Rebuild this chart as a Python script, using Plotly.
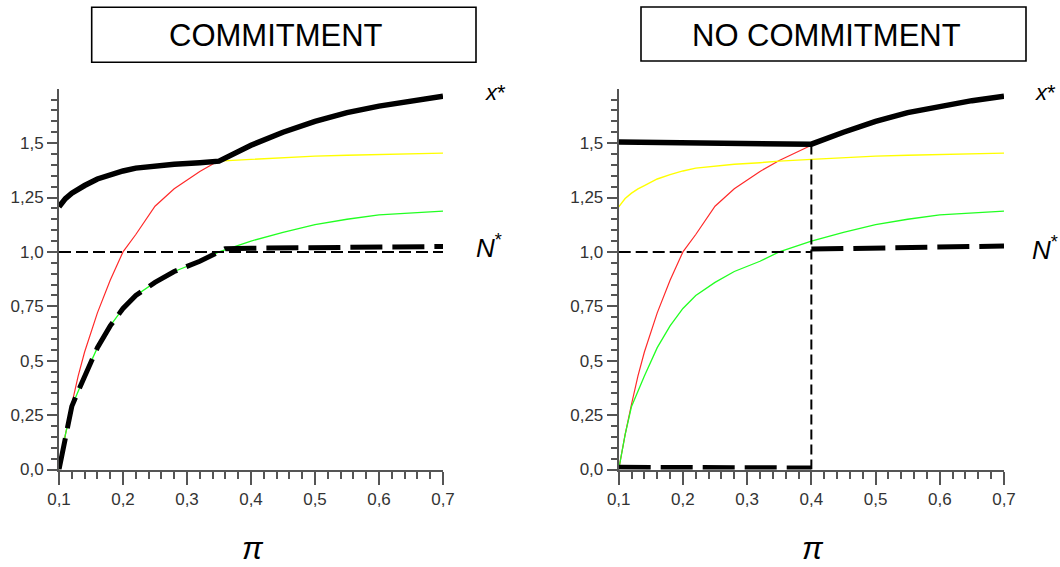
import plotly.graph_objects as go

W, H = 1060, 567

# ---------------- data ----------------
pi_grid = [0.10, 0.11, 0.12, 0.13, 0.14, 0.16, 0.18, 0.20, 0.22, 0.25,
           0.28, 0.32, 0.35, 0.40, 0.45, 0.50, 0.55, 0.60, 0.65, 0.70]

red_curve = [0.00, 0.16, 0.30, 0.43, 0.54, 0.72, 0.87, 1.00, 1.08, 1.21,
             1.29, 1.37, 1.42, 1.49, 1.55, 1.60, 1.64, 1.67, 1.695, 1.715]

yellow_curve = [1.207, 1.245, 1.27, 1.29, 1.305, 1.335, 1.355, 1.372, 1.385, 1.395,
                1.403, 1.410, 1.417, 1.425, 1.433, 1.440, 1.444, 1.448, 1.451, 1.454]

green_curve = [0.00, 0.16, 0.29, 0.36, 0.43, 0.56, 0.66, 0.74, 0.80, 0.86,
               0.91, 0.957, 1.00, 1.05, 1.09, 1.125, 1.15, 1.17, 1.18, 1.187]

# COMMITMENT panel equilibrium paths
xstar_c_pi = [0.10, 0.11, 0.12, 0.13, 0.14, 0.16, 0.18, 0.20, 0.22, 0.25,
              0.28, 0.32, 0.35, 0.40, 0.45, 0.50, 0.55, 0.60, 0.65, 0.70]
xstar_c = [1.207, 1.245, 1.27, 1.29, 1.305, 1.335, 1.355, 1.372, 1.385, 1.395,
           1.403, 1.410, 1.417, 1.49, 1.55, 1.60, 1.64, 1.67, 1.695, 1.715]

nstar_c_pi = [0.10, 0.11, 0.12, 0.13, 0.14, 0.16, 0.18, 0.20, 0.22, 0.25,
              0.28, 0.32, 0.35, 0.36, 0.40, 0.50, 0.60, 0.70]
nstar_c = [0.00, 0.16, 0.29, 0.36, 0.43, 0.56, 0.66, 0.74, 0.80, 0.86,
           0.91, 0.957, 1.00, 1.015, 1.017, 1.019, 1.022, 1.025]

# NO COMMITMENT panel equilibrium paths
xstar_nc_pi = [0.10, 0.40, 0.45, 0.50, 0.55, 0.60, 0.65, 0.70]
xstar_nc = [1.505, 1.495, 1.55, 1.60, 1.64, 1.67, 1.695, 1.715]

nstar_nc_low_pi = [0.10, 0.40]
nstar_nc_low = [0.01, 0.007]
nstar_nc_high_pi = [0.40, 0.50, 0.60, 0.70]
nstar_nc_high = [1.013, 1.017, 1.022, 1.027]

ref_level_pi_c = [0.10, 0.70]
ref_level_pi_nc = [0.10, 0.40]
ref_level = [1.0, 1.0]

switch_pi = [0.40, 0.40]
switch_y = [0.0, 1.495]

xticks = [0.1, 0.2, 0.3, 0.4, 0.5, 0.6, 0.7]
xtick_text = ["0,1", "0,2", "0,3", "0,4", "0,5", "0,6", "0,7"]
yticks = [0.0, 0.25, 0.5, 0.75, 1.0, 1.25, 1.5]
ytick_text = ["0,0", "0,25", "0,5", "0,75", "1,0", "1,25", "1,5"]

panel_titles = ["COMMITMENT", "NO COMMITMENT"]

# ---------------- figure ----------------
def px(x):
    return x / W

def py(y):
    return 1 - y / H

fig = go.Figure()

def add_panel(xa, ya, xs_pi, xs, ns_segments, ref_pi, vertical):
    fig.add_trace(go.Scatter(x=pi_grid, y=red_curve, mode="lines",
                             line=dict(color="#ff2a2a", width=1.2), xaxis=xa, yaxis=ya))
    fig.add_trace(go.Scatter(x=pi_grid, y=yellow_curve, mode="lines",
                             line=dict(color="#ffff00", width=1.4), xaxis=xa, yaxis=ya))
    fig.add_trace(go.Scatter(x=pi_grid, y=green_curve, mode="lines",
                             line=dict(color="#22ff22", width=1.3), xaxis=xa, yaxis=ya))
    fig.add_trace(go.Scatter(x=ref_pi, y=ref_level, mode="lines",
                             line=dict(color="black", width=2, dash="12px,5px"),
                             xaxis=xa, yaxis=ya))
    if vertical:
        fig.add_trace(go.Scatter(x=switch_pi, y=switch_y, mode="lines",
                                 line=dict(color="black", width=2, dash="10px,5px"),
                                 xaxis=xa, yaxis=ya))
    fig.add_trace(go.Scatter(x=xs_pi, y=xs, mode="lines",
                             line=dict(color="black", width=5.5), xaxis=xa, yaxis=ya))
    for sx, sy in ns_segments:
        fig.add_trace(go.Scatter(x=sx, y=sy, mode="lines",
                                 line=dict(color="black", width=5, dash="32px,10px"),
                                 xaxis=xa, yaxis=ya))

add_panel("x", "y", xstar_c_pi, xstar_c, [(nstar_c_pi, nstar_c)], ref_level_pi_c, False)
add_panel("x2", "y2", xstar_nc_pi, xstar_nc,
          [(nstar_nc_low_pi, nstar_nc_low), (nstar_nc_high_pi, nstar_nc_high)],
          ref_level_pi_nc, True)

tickfont = dict(family="Liberation Sans, Arial, sans-serif", size=17, color="#333333")
minor_x = [round(0.1 + 0.02 * i, 4) for i in range(31)]
minor_y = [round(0.05 * i, 4) for i in range(35)]

def xaxis_cfg(domain, anchor):
    return dict(domain=domain, anchor=anchor, range=[0.1, 0.7], showgrid=False,
                automargin=False,
                zeroline=False, showline=True, linecolor="#555555", linewidth=2,
                ticks="outside", ticklen=13, tickwidth=1.5, tickcolor="#555555",
                tickmode="array", tickvals=xticks, ticktext=xtick_text,
                tickfont=tickfont,
                minor=dict(tickmode="array", tickvals=minor_x, ticks="outside",
                           ticklen=7, tickwidth=1.5, tickcolor="#555555", showgrid=False))

def yaxis_cfg(anchor):
    return dict(domain=[py(469.5), py(88.7)], anchor=anchor, range=[0, 1.75],
                automargin=False,
                showgrid=False, zeroline=False, showline=True, linecolor="#555555",
                linewidth=2, ticks="outside", ticklen=10, tickwidth=1.5,
                tickcolor="#555555", tickmode="array", tickvals=yticks,
                ticktext=ytick_text, tickfont=tickfont,
                minor=dict(tickmode="array", tickvals=minor_y, ticks="outside",
                           ticklen=6, tickwidth=1.5, tickcolor="#555555", showgrid=False))

fig.update_layout(
    width=W, height=H, autosize=False,
    margin=dict(l=0, r=0, t=0, b=0, pad=0, autoexpand=False),
    paper_bgcolor="white", plot_bgcolor="white",
    showlegend=False,
    xaxis=xaxis_cfg([px(59), px(443)], "y"),
    yaxis=yaxis_cfg("x"),
    xaxis2=xaxis_cfg([px(618.7), px(1004)], "y2"),
    yaxis2=yaxis_cfg("x2"),
)

# title boxes
boxes = [(91.7, 476, 7.3, 62.3, 276, 35.5), (641, 1026, 7, 61, 826, 35)]
for (x0, x1, y0, y1, tx, ty), title in zip(boxes, panel_titles):
    fig.add_shape(type="rect", xref="paper", yref="paper",
                  x0=px(x0), x1=px(x1), y0=py(y1), y1=py(y0),
                  line=dict(color="black", width=1.6), fillcolor="white")
    fig.add_annotation(xref="paper", yref="paper", x=px(tx), y=py(ty),
                       text=title, showarrow=False, xanchor="center", yanchor="middle",
                       font=dict(family="Liberation Sans, Arial, sans-serif", size=31,
                                 color="black"))

# pi axis labels (anchored to the bottom edge so the text box stays inside)
for cx in (253, 813):
    fig.add_annotation(xref="paper", yref="paper", x=px(cx), y=0,
                       text="<i>π</i>", showarrow=False, xanchor="center", yanchor="bottom",
                       borderpad=0,
                       font=dict(family="Liberation Sans, Arial, sans-serif", size=31,
                                 color="black"))

# curve labels
for cx, cy in ((495, 92), (1045, 92)):
    fig.add_annotation(xref="paper", yref="paper", x=px(cx), y=py(cy),
                       text="<i>x</i>*", showarrow=False, xanchor="center", yanchor="middle",
                       font=dict(family="Liberation Sans, Arial, sans-serif", size=22,
                                 color="black"))
for cx, cy in ((489, 246), (1045, 249)):
    fig.add_annotation(xref="paper", yref="paper", x=px(cx), y=py(cy),
                       text="<i>N</i><sup>*</sup>", showarrow=False, xanchor="center",
                       yanchor="middle",
                       font=dict(family="Liberation Sans, Arial, sans-serif", size=26,
                                 color="black"))

fig.write_html(
    "out.html",
    config={"displayModeBar": False},
    post_script="document.body.style.margin='0px';document.body.style.overflow='hidden';",
)
